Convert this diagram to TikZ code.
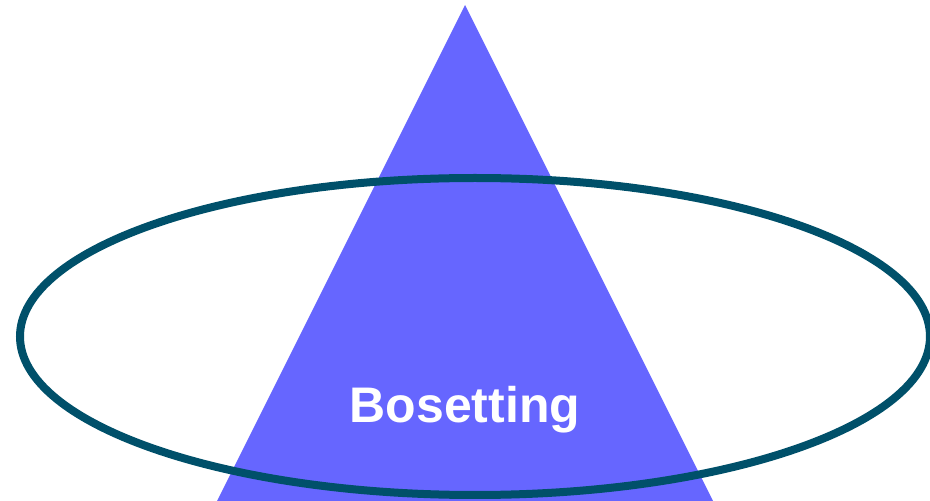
\documentclass[tikz,border=0pt]{standalone}
\usepackage{fontspec}
\setmainfont{Liberation Sans}
\definecolor{pyramid}{RGB}{102,102,255}
\definecolor{ringcol}{RGB}{0,80,106}

\begin{document}
\begin{tikzpicture}[x=1pt,y=1pt]

\tikzset{Pyramid/.style={fill=pyramid,draw=none},
  Ring/.style={draw=ringcol,line width=8pt},
  Caption/.style={text=white,font=\bfseries\fontsize{50}{60}\selectfont,anchor=base,inner sep=0pt}}

  \useasboundingbox (0,0) rectangle (930,501);
  \clip (0,0) rectangle (930,501);

  \fill[Pyramid] (217,0) -- (465,496) -- (713,0) -- cycle;

  \draw[Ring] (475,164.5) ellipse [x radius=455,y radius=158.5];

  \node[Caption] (bo) at (465,78) {Bosetting};

\end{tikzpicture}
\end{document}
